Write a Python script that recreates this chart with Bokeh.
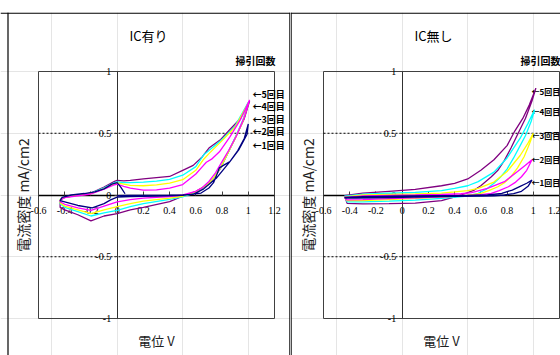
import math
from bokeh.plotting import figure
from bokeh.models import LinearAxis, FixedTicker, Span
from bokeh.layouts import row
from bokeh.core.properties import value
from bokeh.embed import file_html
from bokeh.resources import INLINE

# ---------------- axes / ticks ----------------
X_MIN, X_MAX = -0.6, 1.2
Y_MIN, Y_MAX = -1.0, 1.0
X_TICKS = [-0.6, -0.4, -0.2, 0, 0.2, 0.4, 0.6, 0.8, 1, 1.2]
X_TICK_LABELS = ["-0.6", "-0.4", "-0.2", "0", "0.2", "0.4", "0.6", "0.8", "1", "1.2"]
Y_TICKS = [-1, -0.5, 0, 0.5, 1]
Y_TICK_LABELS = ["-1", "-0.5", "0", "0.5", "1"]
GRID_Y = [0.5, -0.5]

TITLES = ["IC有り", "IC無し"]
X_TITLE = "電位 V"
Y_TITLE = "電流密度 mA/cm2"
LEGEND_TITLE = "掃引回数"
CYCLE_NAMES = ["←1回目", "←2回目", "←3回目", "←4回目", "←5回目"]
COLORS = ["#000080", "#FF00FF", "#FFFF00", "#00FFFF", "#800080"]

# ---------------- IC有り (with IC) : potential V, current density mA/cm2 ----------------
ARI1_V = [0.0, 0.1, 0.2, 0.3, 0.4, 0.5, 0.58, 0.66, 0.76, 0.86, 0.93, 0.99, 1.0,
          0.97, 0.92, 0.86, 0.81, 0.78, 0.76, 0.735, 0.70, 0.64, 0.5, 0.3, 0.1, 0.0,
          -0.05, -0.1, -0.19, -0.3, -0.4, -0.435, -0.42, -0.35, -0.25, -0.17, -0.1,
          -0.04, 0.0, 0.03, 0.06]
ARI1_I = [-0.005, -0.004, -0.004, -0.003, -0.002, 0.0, 0.005, 0.05, 0.14, 0.27, 0.37, 0.49, 0.575,
          0.46, 0.36, 0.27, 0.24, 0.22, 0.165, 0.10, 0.057, 0.016, -0.003, -0.008, -0.012, -0.018,
          -0.04, -0.07, -0.105, -0.085, -0.055, -0.045, -0.02, 0.0, 0.012, 0.025, 0.05,
          0.088, 0.1, 0.06, 0.01]

ARI2_V = [-0.435, -0.4, -0.3, -0.2, -0.1, -0.02, 0.0, 0.05, 0.1, 0.2, 0.3, 0.4, 0.5, 0.6, 0.65,
          0.68, 0.72, 0.78, 0.86, 0.94, 1.01,
          0.97, 0.91, 0.85, 0.80, 0.75, 0.70, 0.65, 0.6, 0.5, 0.4, 0.2, 0.1, 0.0, -0.1, -0.2,
          -0.3, -0.4, -0.435, -0.435]
ARI2_I = [-0.04, -0.022, -0.006, 0.008, 0.048, 0.083, 0.088, 0.07, 0.055, 0.04, 0.042, 0.055, 0.085,
          0.17, 0.23, 0.265, 0.29, 0.35, 0.47, 0.61, 0.77,
          0.63, 0.48, 0.36, 0.27, 0.18, 0.11, 0.06, 0.03, 0.0, -0.012, -0.025, -0.038, -0.055,
          -0.09, -0.125, -0.105, -0.075, -0.055, -0.04]

ARI3_V = [-0.435, -0.4, -0.3, -0.2, -0.1, -0.02, 0.0, 0.05, 0.1, 0.2, 0.3, 0.4, 0.5, 0.6, 0.66,
          0.7, 0.8, 0.9, 1.0,
          0.96, 0.9, 0.84, 0.79, 0.74, 0.69, 0.6, 0.5, 0.4, 0.2, 0.1, 0.0, -0.1, -0.2, -0.3,
          -0.4, -0.435, -0.435]
ARI3_I = [-0.035, -0.02, -0.002, 0.01, 0.052, 0.092, 0.098, 0.088, 0.078, 0.075, 0.082, 0.097,
          0.124, 0.2, 0.29, 0.335, 0.44, 0.55, 0.745,
          0.6, 0.46, 0.33, 0.225, 0.145, 0.085, 0.025, -0.01, -0.025, -0.05, -0.07, -0.095,
          -0.12, -0.15, -0.12, -0.09, -0.065, -0.035]

ARI4_V = [-0.435, -0.4, -0.3, -0.2, -0.1, -0.02, 0.0, 0.05, 0.1, 0.2, 0.3, 0.4, 0.5, 0.6, 0.66,
          0.7, 0.8, 0.9, 1.0,
          0.96, 0.9, 0.84, 0.79, 0.74, 0.69, 0.6, 0.5, 0.4, 0.2, 0.1, 0.0, -0.1, -0.2, -0.3,
          -0.4, -0.435, -0.435]
ARI4_I = [-0.035, -0.02, 0.0, 0.013, 0.058, 0.1, 0.106, 0.1, 0.1, 0.105, 0.112, 0.127, 0.16,
          0.23, 0.325, 0.36, 0.45, 0.56, 0.75,
          0.61, 0.465, 0.33, 0.225, 0.145, 0.083, 0.02, -0.015, -0.035, -0.07, -0.095, -0.125,
          -0.145, -0.17, -0.135, -0.1, -0.07, -0.035]

ARI5_V = [-0.435, -0.4, -0.3, -0.2, -0.1, -0.02, 0.0, 0.05, 0.1, 0.2, 0.3, 0.4, 0.5, 0.58, 0.65,
          0.7, 0.79, 0.86, 0.94, 1.01,
          0.97, 0.9, 0.84, 0.79, 0.74, 0.69, 0.6, 0.5, 0.4, 0.2, 0.1, 0.0, -0.1, -0.2, -0.3,
          -0.4, -0.435, -0.435]
ARI5_I = [-0.04, -0.02, 0.0, 0.015, 0.065, 0.11, 0.118, 0.115, 0.118, 0.13, 0.14, 0.15, 0.2,
          0.24, 0.31, 0.38, 0.45, 0.53, 0.62, 0.76,
          0.62, 0.46, 0.33, 0.22, 0.14, 0.083, 0.03, -0.01, -0.054, -0.1, -0.12, -0.15, -0.17,
          -0.21, -0.16, -0.12, -0.1, -0.04]

# ---------------- IC無し (without IC) ----------------
NASHI1_V = [-0.44, -0.3, -0.1, 0.1, 0.3, 0.5, 0.65, 0.76, 0.84, 0.9, 0.95, 0.99,
            0.96, 0.91, 0.85, 0.78, 0.7, 0.6, 0.4, 0.2, 0.0, -0.2, -0.35, -0.43, -0.44]
NASHI1_I = [-0.02, -0.014, -0.01, -0.008, -0.006, -0.004, 0.0, 0.014, 0.04, 0.07, 0.095, 0.12,
            0.07, 0.03, 0.012, 0.0, -0.006, -0.008, -0.01, -0.014, -0.02, -0.024, -0.026, -0.025, -0.02]

NASHI2_V = [-0.44, -0.3, -0.1, 0.1, 0.3, 0.45, 0.53, 0.65, 0.78, 0.88, 0.94, 0.99,
            0.95, 0.91, 0.86, 0.81, 0.74, 0.68, 0.6, 0.5, 0.3, 0.1, -0.1, -0.3, -0.42, -0.44]
NASHI2_I = [-0.02, -0.008, -0.003, 0.0, 0.004, 0.01, 0.02, 0.054, 0.108, 0.19, 0.24, 0.285,
            0.2, 0.148, 0.1, 0.067, 0.035, 0.014, 0.002, -0.006, -0.015, -0.024, -0.03, -0.037, -0.04, -0.02]

NASHI3_V = [-0.44, -0.3, -0.1, 0.1, 0.3, 0.4, 0.5, 0.58, 0.7, 0.8, 0.9, 0.96, 1.0,
            0.97, 0.93, 0.88, 0.83, 0.78, 0.73, 0.66, 0.6, 0.5, 0.3, 0.1, -0.1, -0.3, -0.42, -0.44]
NASHI3_I = [-0.015, 0.0, 0.005, 0.009, 0.015, 0.025, 0.036, 0.054, 0.105, 0.19, 0.32, 0.42, 0.5,
            0.41, 0.31, 0.22, 0.148, 0.1, 0.067, 0.035, 0.014, -0.004, -0.018, -0.028, -0.037,
            -0.045, -0.045, -0.015]

NASHI4_V = [-0.44, -0.3, -0.1, 0.1, 0.3, 0.4, 0.5, 0.58, 0.7, 0.8, 0.9, 0.96, 1.01,
            0.985, 0.94, 0.9, 0.85, 0.8, 0.75, 0.7, 0.64, 0.58, 0.5, 0.3, 0.1, -0.1, -0.3, -0.42, -0.44]
NASHI4_I = [-0.01, 0.006, 0.014, 0.022, 0.035, 0.054, 0.075, 0.108, 0.185, 0.3, 0.46, 0.58, 0.69,
            0.6, 0.48, 0.4, 0.3, 0.21, 0.145, 0.095, 0.045, 0.014, -0.008, -0.028, -0.042, -0.05,
            -0.055, -0.055, -0.01]

NASHI5_V = [-0.44, -0.3, -0.1, 0.1, 0.3, 0.4, 0.5, 0.6, 0.7, 0.8, 0.86, 0.92, 0.97, 1.02,
            0.99, 0.94, 0.88, 0.83, 0.78, 0.73, 0.68, 0.6, 0.55, 0.45, 0.3, 0.1, -0.1, -0.3, -0.42, -0.44]
NASHI5_I = [-0.005, 0.015, 0.03, 0.045, 0.075, 0.095, 0.13, 0.2, 0.285, 0.4, 0.52, 0.62, 0.73, 0.865,
            0.76, 0.62, 0.49, 0.38, 0.28, 0.2, 0.148, 0.075, 0.04, 0.0, -0.045, -0.065, -0.07,
            -0.072, -0.068, -0.005]

ARI_SERIES = [(ARI1_V, ARI1_I), (ARI2_V, ARI2_I), (ARI3_V, ARI3_I), (ARI4_V, ARI4_I), (ARI5_V, ARI5_I)]
NASHI_SERIES = [(NASHI1_V, NASHI1_I), (NASHI2_V, NASHI2_I), (NASHI3_V, NASHI3_I),
                (NASHI4_V, NASHI4_I), (NASHI5_V, NASHI5_I)]

# ---------------- layout (pixels) ----------------
FIG_H = 355
TOP_GAP = 12         # blank strip above the panel frame
PLOT_W = 236         # width of the inner plot box
PLOT_H = 247         # height of the inner plot box
ABOVE_PLOT = 59      # panel top border -> plot box top
BELOW_PLOT = 37      # plot box bottom -> figure bottom
ARI_LABEL_Y = [0.397, 0.518, 0.615, 0.713, 0.81]
NASHI_LABEL_Y = [0.105, 0.291, 0.478, 0.68, 0.842]

CJK = "Noto Sans CJK JP"
NUM_FONT = "Liberation Sans Narrow"


def make_panel(title, series, label_y, fig_w, left_off, border_left_px, right_border,
               label_dx, label_size):
    sx = PLOT_W / (X_MAX - X_MIN)
    sy = PLOT_H / (Y_MAX - Y_MIN)
    x0 = X_MIN - left_off / sx
    x1 = x0 + fig_w / sx
    y0 = Y_MIN - BELOW_PLOT / sy
    y1 = Y_MAX + ABOVE_PLOT / sy
    p = figure(width=fig_w, height=FIG_H, x_range=(x0, x1), y_range=(y0, y1),
               output_backend="svg", toolbar_location=None, title=None,
               x_axis_location=None, y_axis_location=None)
    p.min_border_left = 0
    p.min_border_right = 0
    p.min_border_bottom = 0
    p.min_border_top = TOP_GAP
    p.outline_line_color = None
    p.background_fill_color = "white"
    p.border_fill_color = "white"

    # panel border
    p.add_layout(Span(location=x0 + border_left_px / sx, dimension="height",
                      line_color="black", line_width=1.2))
    p.add_layout(Span(location=y1 - 0.6 / sy, dimension="width", line_color="black", line_width=1.2))
    if right_border:
        p.add_layout(Span(location=x1 - 0.6 / sx, dimension="height", line_color="black", line_width=1.2))

    # plot box and dotted grid lines
    p.quad(left=[X_MIN], right=[X_MAX], bottom=[Y_MIN], top=[Y_MAX],
           fill_color=None, line_color="#404040", line_width=1)
    p.segment(x0=[X_MIN] * len(GRID_Y), x1=[X_MAX] * len(GRID_Y), y0=GRID_Y, y1=GRID_Y,
              line_color="black", line_width=1, line_dash="2 2")

    # axes crossing at the origin
    xaxis = LinearAxis(fixed_location=0, bounds=(X_MIN, X_MAX),
                       ticker=FixedTicker(ticks=X_TICKS),
                       major_label_overrides=dict(zip(X_TICKS, X_TICK_LABELS)),
                       major_tick_in=4, major_tick_out=0, minor_tick_in=0, minor_tick_out=0,
                       axis_line_color="black", axis_line_width=1.5,
                       major_tick_line_color="#404040",
                       major_label_standoff=12,
                       major_label_text_font=NUM_FONT, major_label_text_font_size="10px",
                       major_label_text_color="black")
    yaxis = LinearAxis(fixed_location=0, bounds=(Y_MIN, Y_MAX),
                       ticker=FixedTicker(ticks=Y_TICKS),
                       major_label_overrides=dict(zip(Y_TICKS, Y_TICK_LABELS)),
                       major_tick_in=0, major_tick_out=3, minor_tick_in=0, minor_tick_out=0,
                       axis_line_color="#303030", axis_line_width=1,
                       major_tick_line_color="#404040",
                       major_label_standoff=3,
                       major_label_text_font=NUM_FONT, major_label_text_font_size="10px",
                       major_label_text_color="black")
    p.add_layout(xaxis, "below")
    p.add_layout(yaxis, "left")

    # CV loops, 5th cycle first so the 1st is on top
    for i in reversed(range(len(series))):
        v, c = series[i]
        r = p.line(v, c, line_color=COLORS[i], line_width=1.3)
        r.level = "annotation"

    # texts
    p.text(x=[X_MIN + 110 / sx], y=[Y_MAX + 36 / sy], text=[title],
           text_font=value(CJK), text_font_size="13px", text_align="center",
           text_baseline="middle", text_color="black")
    p.text(x=[X_MAX + 1 / sx], y=[Y_MAX + 11 / sy], text=[LEGEND_TITLE],
           text_font=value(CJK), text_font_size="10px", text_font_style="bold",
           text_align="right", text_baseline="middle", text_color="black")
    p.text(x=[(X_MIN + X_MAX) / 2], y=[Y_MIN - 22 / sy], text=[X_TITLE],
           text_font=value(CJK), text_font_size="13px", text_align="center",
           text_baseline="middle", text_color="#202020")
    p.text(x=[X_MIN - 16 / sx], y=[(Y_MIN + Y_MAX) / 2], text=[Y_TITLE], angle=math.pi / 2,
           text_font=value(CJK), text_font_size="14px", text_align="center",
           text_baseline="middle", text_color="#202020")
    p.text(x=[X_MAX - label_dx / sx] * len(CYCLE_NAMES), y=label_y, text=CYCLE_NAMES,
           text_font=value(CJK), text_font_size=label_size, text_font_style="bold",
           text_align="left", text_baseline="middle", text_color="black")
    return p


p1 = make_panel(TITLES[0], ARI_SERIES, ARI_LABEL_Y, 290, 38, 7.5, True, 22, "9px")
p2 = make_panel(TITLES[1], NASHI_SERIES, NASHI_LABEL_Y, 270, 33, 0.6, False, 28, "8px")
layout = row(p1, p2)

open("out.html", "w").write(file_html(layout, INLINE))
